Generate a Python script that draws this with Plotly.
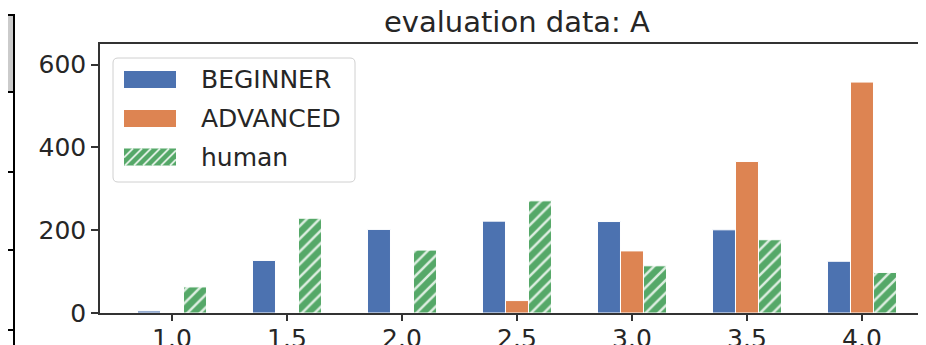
import plotly.graph_objects as go

# ---- data ----
scores = [1.0, 1.5, 2.0, 2.5, 3.0, 3.5, 4.0]
beginner = [5, 127, 202, 222, 221, 201, 125]
advanced = [0, 0, 0, 30, 150, 366, 558]
human = [63, 229, 152, 271, 114, 177, 98]
series_names = ["BEGINNER", "ADVANCED", "human"]
colors = ["#4C72B0", "#DD8452", "#55A868"]
title_text = "evaluation data: A"

OFF = 8                      # page body margin in the browser
W, H = 926 - OFF, 345 - OFF  # figure size that fits the window
SL, ST, SB = 100, 44, 313    # plot area in window pixels (left, top, bottom)
L, T = SL - OFF, ST - OFF
B = H - (SB - OFF)
PW = W - L
PH = H - T - B
FONT = "DejaVu Sans"
TXT = "#262626"


def px2x(px):
    return (px - OFF - L) / PW


def py2y(py):
    return (H - B - (py - OFF)) / PH


fig = go.Figure()
for name, vals, col in zip(series_names, [beginner, advanced, human], colors):
    marker = dict(color=col, line=dict(color="white", width=1))
    if name == "human":
        marker["pattern"] = dict(shape="/", fgcolor="white", bgcolor=col, fgopacity=0.8,
                                 size=9, solidity=0.28, fillmode="overlay")
    fig.add_trace(go.Bar(x=scores, y=vals, name=name, marker=marker,
                         showlegend=False))

shapes = []
annotations = []

# ---- custom legend (matplotlib style) ----
lx0, ly0, lx1, ly1, r = 113, 58, 355, 182, 5
path = (f"M {px2x(lx0 + r)},{py2y(ly0)} L {px2x(lx1 - r)},{py2y(ly0)} "
        f"Q {px2x(lx1)},{py2y(ly0)} {px2x(lx1)},{py2y(ly0 + r)} "
        f"L {px2x(lx1)},{py2y(ly1 - r)} Q {px2x(lx1)},{py2y(ly1)} {px2x(lx1 - r)},{py2y(ly1)} "
        f"L {px2x(lx0 + r)},{py2y(ly1)} Q {px2x(lx0)},{py2y(ly1)} {px2x(lx0)},{py2y(ly1 - r)} "
        f"L {px2x(lx0)},{py2y(ly0 + r)} Q {px2x(lx0)},{py2y(ly0)} {px2x(lx0 + r)},{py2y(ly0)} Z")
shapes.append(dict(type="path", xref="paper", yref="paper", path=path,
                   fillcolor="rgba(255,255,255,0.85)", line=dict(color="#d0d0d0", width=1)))
row_centers = [79.5, 118.5, 157]
px0, px1, ph = 124, 176, 17
for name, col, cy in zip(series_names, colors, row_centers):
    y0p, y1p = cy - ph / 2, cy + ph / 2
    shapes.append(dict(type="rect", xref="paper", yref="paper",
                       x0=px2x(px0), x1=px2x(px1), y0=py2y(y1p), y1=py2y(y0p),
                       fillcolor=col, line=dict(width=0)))
    if name == "human":
        pw = px1 - px0
        s = 9
        c = -ph
        while c < pw:
            u0 = max(0, -c)
            u1 = min(ph, pw - c)
            if u1 > u0:
                xa, ya = px0 + c + u0, y1p - u0
                xb, yb = px0 + c + u1, y1p - u1
                shapes.append(dict(type="line", xref="paper", yref="paper",
                                   x0=px2x(xa), y0=py2y(ya), x1=px2x(xb), y1=py2y(yb),
                                   line=dict(color="rgba(255,255,255,0.8)", width=1.8)))
            c += s
    annotations.append(dict(text=name, xref="paper", yref="paper",
                            x=px2x(199), y=py2y(cy), xanchor="left", yanchor="middle",
                            showarrow=False, font=dict(family=FONT, size=25, color=TXT)))

# ---- title ----
annotations.append(dict(text=title_text, xref="paper", yref="paper",
                        x=px2x(517), y=py2y(22), xanchor="center", yanchor="middle",
                        showarrow=False, font=dict(family=FONT, size=29, color=TXT)))

# ---- table fragment on the left ----
shapes.append(dict(type="rect", xref="paper", yref="paper",
                   x0=px2x(-5), x1=px2x(14), y0=py2y(92), y1=py2y(15),
                   fillcolor="#cbcbcb", line=dict(color="black", width=2)))
shapes.append(dict(type="line", xref="paper", yref="paper",
                   x0=px2x(14), x1=px2x(14), y0=py2y(15), y1=py2y(350),
                   line=dict(color="black", width=2)))
for yy in [172, 250, 330]:
    shapes.append(dict(type="line", xref="paper", yref="paper",
                       x0=px2x(-5), x1=px2x(14), y0=py2y(yy), y1=py2y(yy),
                       line=dict(color="black", width=2)))

fig.update_layout(
    template="none",
    width=W, height=H,
    margin=dict(l=L, r=0, t=T, b=B),
    paper_bgcolor="white", plot_bgcolor="white",
    barmode="group", bargap=0.4, bargroupgap=0,
    font=dict(family=FONT, size=25, color=TXT),
    shapes=shapes, annotations=annotations,
    showlegend=False,
)
fig.update_xaxes(range=[0.687, 0.687 + (926 - SL) / 230], tickvals=scores,
                 ticktext=[f"{v:.1f}" for v in scores], automargin=False,
                 showline=True, linecolor="#333333", linewidth=1.5, mirror=True,
                 ticks="outside", ticklen=6, tickwidth=1.5, tickcolor="#333333",
                 showgrid=False, zeroline=False, ticklabelstandoff=-4,
                 tickfont=dict(family=FONT, size=25, color=TXT))
fig.update_yaxes(range=[0, 650], tickvals=[0, 200, 400, 600], automargin=False,
                 showline=True, linecolor="#333333", linewidth=1.5, mirror=False,
                 ticks="outside", ticklen=7, tickwidth=1.5, tickcolor="#333333",
                 showgrid=False, zeroline=False, ticklabelstandoff=0,
                 tickfont=dict(family=FONT, size=25, color=TXT))

fig.write_html("out.html")
